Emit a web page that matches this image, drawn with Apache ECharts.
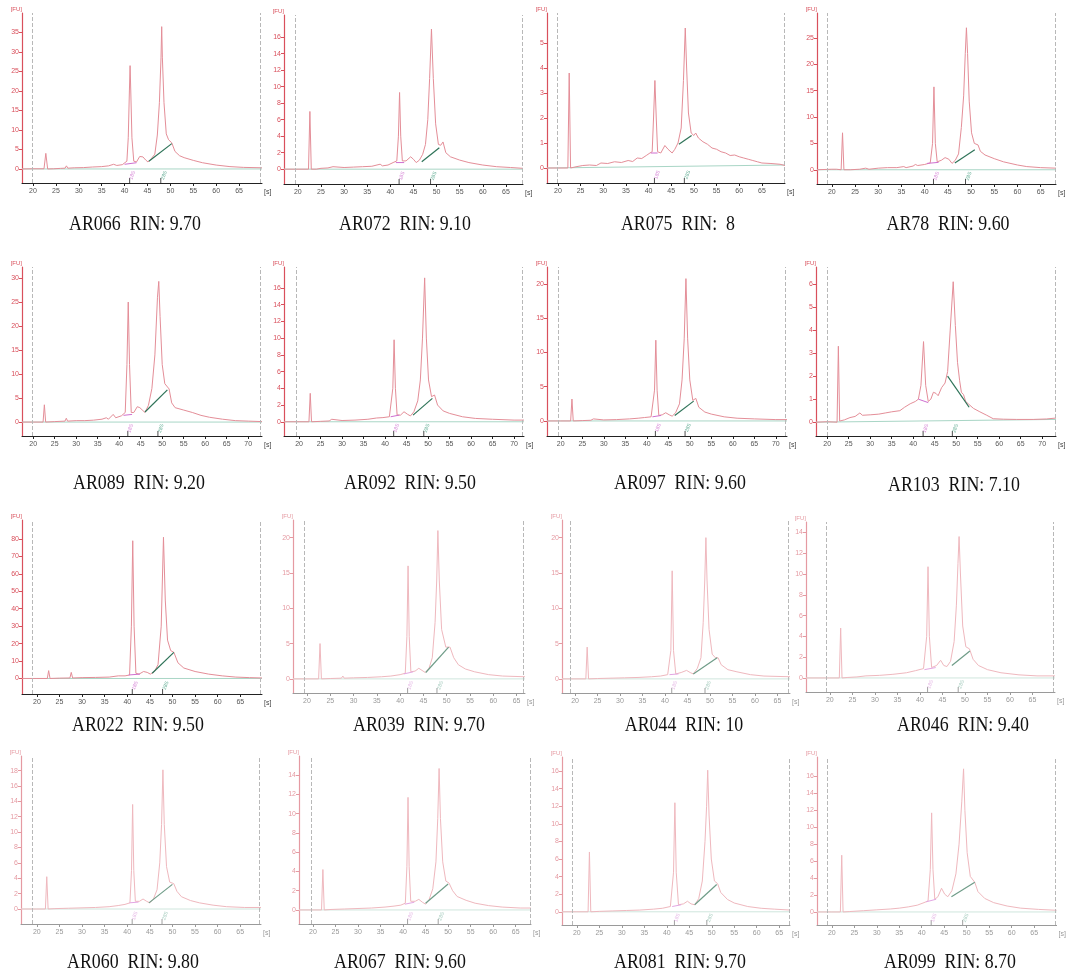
<!DOCTYPE html>
<html>
<head>
<meta charset="utf-8">
<script src="https://cdn.jsdelivr.net/npm/echarts@6/dist/echarts.min.js"></script>
<style>
html, body { margin: 0; background: #fff; }
#chart { width: 1067px; height: 974px; }
</style>
</head>
<body>
<div id="chart"></div>
<script>
// sample names and RIN values, in reading order (4 rows x 4 columns)
var samples = ['AR066', 'AR072', 'AR075', 'AR78', 'AR089', 'AR092', 'AR097', 'AR103',
               'AR022', 'AR039', 'AR044', 'AR046', 'AR060', 'AR067', 'AR081', 'AR099'];
var rins = ['9.70', '9.10', ' 8', '9.60', '9.20', '9.50', '9.60', '7.10',
            '9.50', '9.70', '10', '9.40', '9.80', '9.60', '9.70', '8.70'];

// y tick step and top tick of each panel
var yStep = [5, 2, 1, 5, 5, 2, 5, 1, 10, 5, 5, 2, 2, 2, 2, 2];
var yTop = [35, 16, 5, 25, 30, 16, 20, 6, 80, 20, 20, 14, 18, 14, 16, 16];
var xTicksShort = [20, 25, 30, 35, 40, 45, 50, 55, 60, 65];
var xTicksLong = [20, 25, 30, 35, 40, 45, 50, 55, 60, 65, 70];

// electropherogram traces [time s, FU]
var ar066 = [[17.6,0],[20,0.05],[22.4,0.05],[22.8,4],[23.2,0],[24.5,0.05],[26,0.15],[27,0.2],[27.3,0.8],[27.6,0.2],[29,0.3],[31,0.35],[33,0.5],[35,0.6],[36.5,0.8],[37.6,1.2],[38.3,0.9],[39.5,1.1],[40.5,2],[40.8,8],[41.05,20],[41.2,26.5],[41.35,20],[41.6,8],[42,2],[42.6,1.8],[43.3,3.2],[44,3.1],[44.6,2.3],[45.1,1.8],[45.8,2.6],[46.6,3.8],[47.15,8.7],[47.6,17],[47.95,28.5],[48.1,36.5],[48.25,28.5],[48.6,17],[49.1,9],[49.6,7.5],[50.3,6.7],[51,4.5],[52,3.4],[53,2.9],[55,2.2],[57,1.6],[60,1],[63,0.6],[66,0.4],[70,0.3]];
var ar072 = [[17,0],[22.3,0],[22.6,7],[22.9,0],[24,0],[25,0.1],[26.5,0.15],[27.6,0.3],[28,0.15],[30,0.2],[32,0.25],[34,0.3],[36,0.35],[37.8,0.6],[38.3,0.4],[39.5,0.5],[40.6,0.8],[41.4,1],[41.75,4],[42,9.3],[42.25,4],[42.6,1],[43.4,1],[44.4,1.5],[45,1.2],[45.6,0.8],[46.3,1.1],[47,1.8],[47.6,3],[48.1,6],[48.5,11],[48.9,17],[49.3,11],[49.8,5.5],[50.4,3],[50.9,2.9],[51.4,3.3],[52,2],[53,1.5],[55,1.1],[57,0.8],[60,0.5],[63,0.3],[66,0.2],[68.7,0.1]];
var ar075 = [[17.6,0],[20,0],[22.2,0],[22.5,3.8],[22.8,0],[24,0.05],[25.5,0.1],[27,0.12],[28.5,0.1],[29.5,0.2],[31,0.18],[32.5,0.25],[34,0.22],[35.5,0.3],[36.5,0.26],[37.5,0.4],[38.5,0.38],[39.5,0.5],[40.3,0.6],[40.8,0.65],[41.1,2],[41.4,3.5],[41.7,2],[42,0.65],[42.7,0.6],[43.6,0.9],[44.3,0.75],[45.2,0.6],[45.8,0.75],[46.5,1],[47.2,1.6],[47.7,3.5],[48.1,5.6],[48.4,4],[48.8,2.2],[49.4,1.4],[50,1.3],[50.4,1.4],[51,1.2],[52,1.05],[53,0.95],[54,0.8],[55,0.75],[56,0.65],[57,0.6],[58,0.5],[59,0.52],[60,0.45],[61,0.4],[62,0.35],[63,0.3],[64,0.25],[65,0.2],[67,0.18],[69,0.15],[70.1,0.1]];
var ar78 = [[16.8,0],[20,0.1],[21,0.1],[22,0],[22.3,7],[22.6,0],[24,0],[26,0.1],[27.3,0.3],[28,0.1],[30,0.3],[32,0.4],[34,0.4],[35.5,0.6],[36,0.4],[37.5,0.7],[38,1],[38.5,0.8],[40,1],[41.2,1.3],[41.7,5],[42,15.7],[42.3,5],[42.7,1.5],[43.6,1.8],[44.4,2.3],[45.2,2],[45.9,1.2],[46.6,1.8],[47.3,3],[47.9,8],[48.4,14],[48.75,22],[49,26.9],[49.25,22],[49.6,13],[50.1,7],[50.7,5],[51.5,4.7],[52,3.5],[53,2.8],[55,2.1],[57,1.5],[60,0.9],[62,0.6],[65,0.4],[68.3,0.3]];
var ar089 = [[17.4,0],[20,0],[22.3,0],[22.6,3.6],[22.9,0],[25,0.1],[27.4,0.2],[27.7,0.8],[28,0.2],[30,0.3],[32,0.3],[34,0.4],[36,0.6],[37,0.9],[37.5,0.6],[38.6,1.6],[39.2,0.9],[40.5,1.3],[41.4,2],[41.8,12],[42.1,25],[42.4,12],[42.8,2],[43.4,2],[44.2,3.2],[44.8,3],[45.5,2.4],[46,2],[46.8,3.5],[47.6,7],[48.3,14],[48.9,26],[49.2,29.3],[49.5,22],[50,12],[50.6,8],[51.6,6.9],[52.2,4],[53,3],[55,2.5],[57,2],[59,1.4],[61,1],[64,0.6],[67,0.3],[70,0.2],[73.2,0.1]];
var ar092 = [[16.5,0],[20,0],[22.3,0],[22.6,3.4],[22.9,0],[25,0.05],[27,0.1],[27.6,0.3],[28,0.1],[30,0.15],[33,0.2],[36,0.3],[38,0.45],[39.5,0.5],[41,0.6],[41.8,4],[42.1,9.8],[42.4,4],[42.8,0.8],[43.6,0.8],[44.4,1.2],[45.2,0.9],[45.9,0.7],[46.7,1.2],[47.6,2.5],[48.2,5],[48.7,10],[49.2,17.2],[49.6,10],[50.1,5],[50.8,3],[51.5,3.2],[52.2,2],[53.5,1.3],[55,1],[58,0.6],[61,0.4],[65,0.3],[70,0.2],[72.3,0.2]];
var ar097 = [[16.8,0],[20,0],[22.3,0],[22.6,3.2],[22.9,0],[25,0.05],[27,0.1],[27.6,0.3],[28,0.1],[30,0.15],[33,0.2],[36,0.3],[38,0.4],[39.5,0.5],[41,0.6],[41.8,4.5],[42.1,11.8],[42.4,4.5],[42.8,0.8],[43.6,0.9],[44.4,1.2],[45.2,0.9],[45.9,0.7],[46.7,1.2],[47.6,2.5],[48.2,6],[48.7,12],[49.1,20.8],[49.5,12],[50,6],[50.7,3],[51.4,3.3],[52.1,2],[53.5,1.3],[55,1],[58,0.6],[61,0.4],[65,0.3],[70,0.2],[72.6,0.2]];
var ar103 = [[17.4,0],[20,0.02],[22.3,0],[22.6,3.3],[22.9,0.05],[24,0.1],[25.3,0.2],[26.5,0.25],[27.6,0.4],[28.2,0.3],[30,0.32],[32,0.35],[33.5,0.4],[35,0.45],[36.9,0.5],[38,0.65],[39.3,0.8],[40.5,0.9],[41.2,1.0],[41.8,1.6],[42.4,3.5],[42.9,1.6],[43.5,0.9],[44.1,1.0],[44.7,1.3],[45.3,1.25],[45.8,1.15],[46.6,1.5],[47.4,1.7],[48,2.2],[48.6,4],[49.3,6.1],[49.8,4.2],[50.3,2.6],[50.8,1.8],[51.2,1.3],[51.7,1.2],[52.2,0.9],[52.8,0.8],[54,0.6],[55.5,0.45],[57.1,0.3],[58.6,0.15],[61,0.13],[64,0.12],[67.9,0.12],[71,0.14],[73.2,0.18]];
var ar022 = [[16.7,0],[20,0],[22.3,0],[22.6,4.5],[22.9,0],[25,0.2],[27.3,0.3],[27.6,3.5],[27.9,0.3],[30,0.5],[33,0.6],[36,0.8],[38,1.5],[39.5,1.5],[40.5,2],[40.9,30],[41.2,79],[41.5,30],[41.9,3],[42.6,2.5],[43.6,4],[44.4,3.5],[45.1,2.5],[46,4],[46.8,8],[47.5,30],[48,81],[48.4,45],[48.9,22],[49.6,16],[50.3,15],[51.2,9],[52.5,6],[55,4],[58,2.5],[61,1.5],[64,0.8],[67,0.5],[69.8,0.3]];
var ar039 = [[17,0],[20,0],[22.5,0],[22.8,5],[23.1,0],[25,0.05],[27.4,0.1],[27.7,0.4],[28,0.1],[30,0.15],[33,0.2],[36,0.3],[38,0.4],[40,0.6],[41.1,0.8],[41.45,6],[41.7,16],[41.95,6],[42.3,1],[43.2,1.1],[44,1.5],[44.7,1.2],[45.4,0.9],[46.2,1.5],[46.9,3],[47.5,8],[47.85,14],[48.1,21],[48.4,14],[48.9,7],[49.8,4.5],[50.7,4.5],[51.5,3],[52.5,2],[54,1.4],[56,1],[59,0.6],[62,0.4],[66.8,0.3]];
var ar044 = [[17.1,0],[20,0],[22.4,0],[22.7,4.5],[23,0],[25,0.05],[28,0.1],[31,0.15],[34,0.2],[37,0.3],[39,0.4],[40.6,0.6],[41.3,4],[41.6,15.3],[41.9,4],[42.4,0.7],[43.6,0.9],[44.8,1.2],[45.6,0.9],[46.3,0.7],[47.2,1.5],[48,3],[48.5,8],[48.85,14],[49.1,20],[49.35,14],[49.8,7],[50.5,3.5],[51.2,3],[51.8,3],[52.5,2],[54,1.3],[56,1],[59,0.6],[62,0.4],[67.8,0.3]];
var ar046 = [[14.7,0],[20,0],[22.1,0],[22.4,4.8],[22.7,0],[24,0.05],[26,0.1],[28,0.2],[31,0.25],[34,0.35],[37,0.5],[39,0.7],[40.8,0.9],[41.5,4],[41.8,10.7],[42.1,4],[42.6,1],[43.7,1.2],[44.6,1.7],[45.3,1.2],[46,1.1],[46.8,1.6],[47.6,3.5],[48.1,7],[48.45,11],[48.7,13.6],[49,10],[49.5,5],[50.2,3],[51,2.8],[51.8,1.8],[53,1.2],[55,0.8],[58,0.5],[62,0.3],[66,0.2],[70,0.2]];
var ar060 = [[16.5,0],[20,0],[21.9,0],[22.2,4.2],[22.5,0],[24,0.05],[27,0.1],[30,0.15],[33,0.2],[36,0.3],[38,0.45],[39.5,0.6],[40.6,0.8],[40.95,5],[41.2,13.6],[41.45,5],[41.8,1],[42.7,1],[43.5,1.3],[44.3,1],[45,0.8],[45.8,1.3],[46.6,2.5],[47.2,6],[47.6,11],[47.9,18.1],[48.2,11],[48.7,5.5],[49.4,3.5],[50.3,3.3],[51,2.3],[52,1.6],[54,1.1],[56,0.8],[59,0.5],[62,0.3],[66,0.2],[69.6,0.2]];
var ar067 = [[16.9,0],[20,0],[21.9,0],[22.2,4.2],[22.5,0],[24,0.05],[27,0.1],[30,0.15],[33,0.2],[36,0.3],[38,0.4],[39.5,0.5],[40.5,0.7],[40.85,4.5],[41.1,11.7],[41.35,4.5],[41.7,0.9],[42.7,0.9],[43.5,1.1],[44.3,0.8],[45,0.6],[45.8,1.1],[46.6,2.2],[47.3,5],[47.7,9.5],[48,14.7],[48.3,9.5],[48.8,5],[49.5,3],[50.2,2.8],[51,2],[52,1.4],[54,1],[56,0.7],[59,0.45],[62,0.3],[66,0.2],[68.4,0.2]];
var ar081 = [[16.7,0],[20,0],[22.5,0],[22.8,6.8],[23.1,0],[25,0.05],[28,0.1],[31,0.15],[34,0.2],[37,0.3],[39,0.4],[40.8,0.6],[41.5,4.5],[41.8,12.4],[42.1,4.5],[42.6,0.8],[43.7,0.9],[44.6,1.2],[45.4,0.9],[46.2,0.8],[47.1,1.5],[47.9,3.5],[48.5,8],[48.85,12],[49.1,16.1],[49.4,11],[49.9,6],[50.6,3.5],[51.3,3.2],[52,2.2],[53.5,1.4],[55,1],[58,0.6],[61,0.4],[64,0.3],[67.4,0.2]];
var ar099 = [[16.7,0],[20,0],[21.9,0],[22.2,6.7],[22.5,0],[24,0.05],[27,0.15],[30,0.25],[33,0.35],[35,0.45],[37,0.6],[39,0.8],[40.5,1.1],[41.4,1.3],[41.9,5],[42.2,11.7],[42.5,5],[42.9,1.5],[43.6,1.8],[44.4,2.8],[45.1,2.1],[45.8,1.8],[46.7,2.5],[47.6,4.5],[48.3,8],[48.9,13],[49.3,16.9],[49.6,12],[50.1,7],[50.8,4.2],[51.8,3.5],[52.5,2.4],[54,1.6],[56,1.1],[59,0.7],[62,0.45],[66,0.3],[70,0.2]];
var traces = [ar066, ar072, ar075, ar78, ar089, ar092, ar097, ar103,
              ar022, ar039, ar044, ar046, ar060, ar067, ar081, ar099];

// 28S and 18S peak baselines drawn by the instrument
var seg28 = [[[45.3,2],[50.3,6.5]], [[46.8,0.9],[50.6,2.6]], [[46.7,0.95],[49.5,1.3]], [[46.5,1.3],[50.8,3.8]],
             [[46,2.1],[51.2,6.7]], [[46.5,0.8],[51,2.8]], [[46.5,0.8],[50.9,2.9]], [[48,2.0],[53,0.65]],
             [[45.5,3],[50.3,15]], [[45.5,0.9],[50.4,4.5]], [[46.3,0.7],[51.6,3]], [[47.1,1.2],[51.1,2.6]],
             [[44.8,0.8],[50,3.2]], [[45,0.7],[50,2.7]], [[46.2,0.8],[51.1,3.1]], [[46.6,1.8],[51.8,3.5]]];
var seg18 = [[[40,1.2],[42.6,1.6]], [[41.2,0.8],[43,0.8]], [[40.5,0.6],[42,0.6]], [[40.5,1.2],[43,1.4]],
             [[41,1.4],[43,1.6]], [[41.3,0.6],[43.3,0.8]], [[41.3,0.6],[43.3,0.8]], [[41.2,1.0],[43.5,0.85]],
             [[40.3,2],[42.8,2.5]], [[40.8,0.7],[42.8,1]], [[41,0.6],[43,0.7]], [[41,0.8],[43.5,1]],
             [[40.5,0.8],[42.5,0.9]], [[40.4,0.6],[42.5,0.8]], [[41.2,0.6],[43.2,0.8]], [[41,1.2],[43.2,1.5]]];
var baseEnd = [0, 0, 0.12, 0, 0, 0, 0, 0.12, 0, 0, 0, 0, 0, 0, 0, 0];

// layout of each panel (pixels) and axis ranges
var gL = [22, 284, 547, 817, 22, 284, 547, 816, 22, 293, 562, 806, 21, 299, 562, 817];
var gT = [13, 15, 13, 13, 267, 267, 267, 267, 520, 520, 520, 522, 756, 756, 757, 757];
var gB = [183, 184, 183, 184, 436, 436, 436, 436, 694, 693, 693, 692, 924, 924, 925, 925];
var gW = [240, 239, 238, 239, 240, 240, 240, 240, 240, 232, 228, 249, 240, 232, 228, 240];
var xMin = [17.6, 17, 17.6, 16.8, 17.4, 16.5, 16.8, 17.4, 16.7, 17, 17.1, 14.7, 16.5, 16.9, 16.7, 16.7];
var xMax = [70, 68.7, 70.1, 68.3, 73.2, 72.3, 72.6, 73.2, 69.8, 66.8, 67.8, 70, 69.6, 68.4, 67.4, 70];
var yMin = [-3.6, -1.8, -0.6, -2.7, -2.9, -1.7, -2.2, -0.6, -8.9, -2, -2, -1.35, -1.95, -1.46, -1.5, -1.54];
var yMax = [40, 18.7, 6.2, 29.7, 32.3, 18.5, 22.5, 6.74, 90.9, 22.5, 22.5, 15, 19.9, 16, 17.6, 18.3];
var dashL = [19.8, 19.4, 19.8, 19, 19.7, 19.3, 19.5, 19.9, 18.9, 19.4, 18.9, 19.2, 18.9, 19.6, 18.9, 18.9];
var dashR = [69.6, 68.5, 70, 68.1, 72.8, 72, 72.3, 73, 69.4, 66.5, 67.5, 69.7, 69.3, 68.2, 67.2, 69.7];
var capX = [135, 405, 678, 948, 139, 410, 680, 954, 138, 419, 684, 963, 133, 400, 680, 950];
var capY = [224, 224, 224, 224, 483, 483, 483, 485, 725, 725, 725, 725, 962, 962, 962, 962];
var faded = [0, 0, 0, 0, 0, 0, 0, 0, 0, 1, 1, 1, 1, 1, 1, 1];

var myChart = echarts.init(document.getElementById('chart'));

function peakAt(data, lo, hi) {
    var best = null;
    for (var k = 0; k < data.length; k++) {
        if (data[k][0] >= lo && data[k][0] <= hi && (!best || data[k][1] > best[1])) best = data[k];
    }
    return best ? best[0] : (lo + hi) / 2;
}

var grids = [], xAxes = [], yAxes = [], series = [], graphics = [];

for (var i = 0; i < 16; i++) {
    var f = faded[i];
    var red = f ? '#e59aa2' : '#d9505c';
    var traceCol = f ? '#efb8be' : '#e48e98';
    var axisCol = f ? '#9a9a9a' : '#222';
    var yTicks = [];
    for (var v = 0; v <= yTop[i]; v += yStep[i]) yTicks.push(v);
    var xTicks = (i >= 4 && i < 8) ? xTicksLong : xTicksShort;

    grids.push({ left: gL[i], top: gT[i], width: gW[i], height: gB[i] - gT[i] });

    xAxes.push({
        type: 'value', gridIndex: i, min: xMin[i], max: xMax[i],
        name: '[s]', nameLocation: 'end', nameGap: 2,
        nameTextStyle: { color: f ? '#999' : '#444', fontSize: 7, align: 'left', verticalAlign: 'top', padding: [6, 0, 0, 0] },
        axisLine: { onZero: false, lineStyle: { color: axisCol, width: 1 } },
        axisTick: { customValues: xTicks, length: 3, lineStyle: { color: axisCol } },
        axisLabel: { customValues: xTicks, fontSize: 7, color: f ? '#999' : '#555', margin: 5,
                     fontFamily: 'Liberation Sans Narrow, Liberation Sans' },
        splitLine: { show: false }
    });

    yAxes.push({
        type: 'value', gridIndex: i, min: yMin[i], max: yMax[i],
        name: '[FU]', nameLocation: 'end', nameGap: 1,
        nameTextStyle: { color: red, fontSize: 6, align: 'right', padding: [0, 0, 0, 0] },
        axisLine: { show: true, lineStyle: { color: red, width: 1.2 } },
        axisTick: { show: true, customValues: yTicks, length: 3, lineStyle: { color: red } },
        axisLabel: { customValues: yTicks, fontSize: 7, color: red, margin: 3,
                     fontFamily: 'Liberation Sans Narrow, Liberation Sans' },
        splitLine: { show: false }
    });

    // zero baseline + dashed run window
    series.push({
        type: 'line', xAxisIndex: i, yAxisIndex: i, symbol: 'none', silent: true,
        data: [[xMin[i], 0], [xMax[i], baseEnd[i]]],
        lineStyle: { color: f ? '#cfe6dd' : '#a9d6c6', width: 1 },
        markLine: {
            symbol: 'none', silent: true, label: { show: false },
            lineStyle: { type: 'dashed', color: '#b8b8b8', width: 1 },
            data: [{ xAxis: dashL[i] }, { xAxis: dashR[i] }]
        }
    });
    series.push({
        type: 'line', xAxisIndex: i, yAxisIndex: i, symbol: 'none', silent: true,
        data: traces[i], lineStyle: { color: traceCol, width: 1 }
    });
    series.push({
        type: 'line', xAxisIndex: i, yAxisIndex: i, symbol: 'none', silent: true,
        data: seg18[i], lineStyle: { color: f ? '#e3a6e3' : '#cf6fd0', width: 1 }
    });
    series.push({
        type: 'line', xAxisIndex: i, yAxisIndex: i, symbol: 'none', silent: true,
        data: seg28[i], lineStyle: { color: f ? '#6f9c88' : '#2e7358', width: 1.2 }
    });

    // 18S / 28S tags under the zero line
    var t18 = peakAt(traces[i], 40, 44), t28 = peakAt(traces[i], 46, 52);
    series.push({
        type: 'scatter', xAxisIndex: i, yAxisIndex: i, silent: true,
        symbol: 'rect', symbolSize: [1, 5], symbolOffset: [0, -2.5],
        itemStyle: { color: f ? '#888' : '#222' },
        data: [[t18 - 0.1, yMin[i]], [t28 - 0.2, yMin[i]]]
    });
    series.push({
        type: 'scatter', xAxisIndex: i, yAxisIndex: i, silent: true, symbolSize: 0,
        data: [
            { value: [t18 + 0.5, yMin[i] * 0.45], label: { formatter: '18S', color: f ? '#e0a8e0' : '#cc66cc' } },
            { value: [t28 + 0.5, yMin[i] * 0.45], label: { formatter: '28S', color: f ? '#8fbfae' : '#3d9a7a' } }
        ],
        label: { show: true, position: 'inside', rotate: 70, fontSize: 5 }
    });

    graphics.push({
        type: 'text', x: capX[i], y: capY[i], scaleX: 0.85, silent: true,
        style: {
            text: samples[i] + '  RIN: ' + rins[i],
            font: '21px "Liberation Serif"', fill: '#111',
            align: 'center', verticalAlign: 'middle',
            textAlign: 'center', textVerticalAlign: 'middle'
        }
    });
}

option = {
    backgroundColor: '#fff',
    animation: false,
    grid: grids,
    xAxis: xAxes,
    yAxis: yAxes,
    series: series,
    graphic: graphics
};

myChart.setOption(option);
</script>
</body>
</html>
